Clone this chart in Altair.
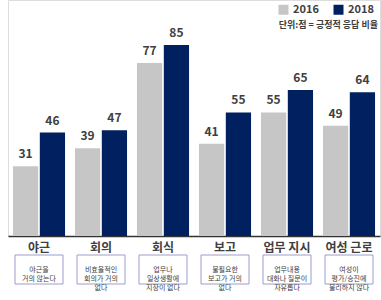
import altair as alt
import pandas as pd

categories = ["야근", "회의", "회식", "보고", "업무 지시", "여성 근로"]
descriptions = [
    "야근을\n거의 않는다",
    "비효율적인\n회의가 거의\n없다",
    "업무나\n일상생활에\n지장이 없다",
    "불필요한\n보고가 거의\n없다",
    "업무내용\n대화나 질문이\n자유롭다",
    "여성이\n평가/승진에\n불리하지 않다",
]
years = ["2016", "2018"]
values_2016 = [31, 39, 77, 41, 55, 49]
values_2018 = [46, 47, 85, 55, 65, 64]
colors = ["#c6c6c6", "#002060"]

rows = []
for c, v1, v2 in zip(categories, values_2016, values_2018):
    rows.append({"category": c, "year": years[0], "value": v1})
    rows.append({"category": c, "year": years[1], "value": v2})
df = pd.DataFrame(rows)
desc_df = pd.DataFrame({"category": categories, "desc": descriptions})

xenc = alt.X(
    "category:N",
    sort=categories,
    scale=alt.Scale(paddingInner=0.16, paddingOuter=0.08),
    axis=alt.Axis(
        title=None, ticks=False, labelAngle=0, labelFontSize=12,
        labelFontWeight="bold", labelColor="#404040", labelPadding=6,
        domainColor="#333333", domainWidth=1.5, labelFont="Noto Sans CJK KR",
    ),
)
xoff = alt.XOffset("year:N", sort=years, scale=alt.Scale(paddingInner=0.06))
yenc = alt.Y("value:Q", scale=alt.Scale(domain=[0, 105]), axis=None)

bars = alt.Chart(df).mark_bar().encode(
    x=xenc, xOffset=xoff, y=yenc,
    color=alt.Color(
        "year:N", sort=years,
        scale=alt.Scale(domain=years, range=colors),
        legend=alt.Legend(
            title=None, orient="none", legendX=268, legendY=2,
            direction="horizontal", symbolType="square", symbolSize=100,
            symbolStrokeWidth=0, labelFontSize=11, labelFontWeight="bold",
            labelColor="#404040", columnPadding=14, labelFont="Noto Sans CJK KR",
            padding=2,
        ),
    ),
)

labels = alt.Chart(df).mark_text(
    dy=-5, baseline="bottom", fontSize=12, fontWeight="bold",
    color="#404040", font="Noto Sans CJK KR",
).encode(x=xenc, xOffset=xoff, y=yenc, text="value:Q")

boxes = alt.Chart(desc_df).mark_bar(
    width=48, fill="white", stroke="#9c9ccc", strokeWidth=1,
).encode(
    x=alt.X("category:N", sort=categories),
    y=alt.value(255), y2=alt.value(284),
)

box_text = alt.Chart(desc_df).mark_text(
    fontSize=7, color="#404040", lineBreak="\n", lineHeight=9,
    baseline="middle", font="Noto Sans CJK KR",
).encode(
    x=alt.X("category:N", sort=categories),
    y=alt.value(269.5),
    text="desc:N",
)

unit_df = pd.DataFrame({"t": ["단위:점 = 긍정적 응답 비율"]})
unit = alt.Chart(unit_df).mark_text(
    align="right", baseline="middle", fontSize=9, fontWeight="bold",
    color="#404040", font="Noto Sans CJK KR",
).encode(x=alt.value(370), y=alt.value(25), text="t:N")

chart = alt.layer(bars, labels, boxes, box_text, unit).properties(
    width=372, height=236,
    padding={"left": 8, "top": 0, "right": 1, "bottom": 64},
    autosize=alt.AutoSizeParams(type="none"),
).configure_view(stroke=None).configure(background="white")

chart.save("out.html", embed_options={"renderer": "svg", "actions": False})
